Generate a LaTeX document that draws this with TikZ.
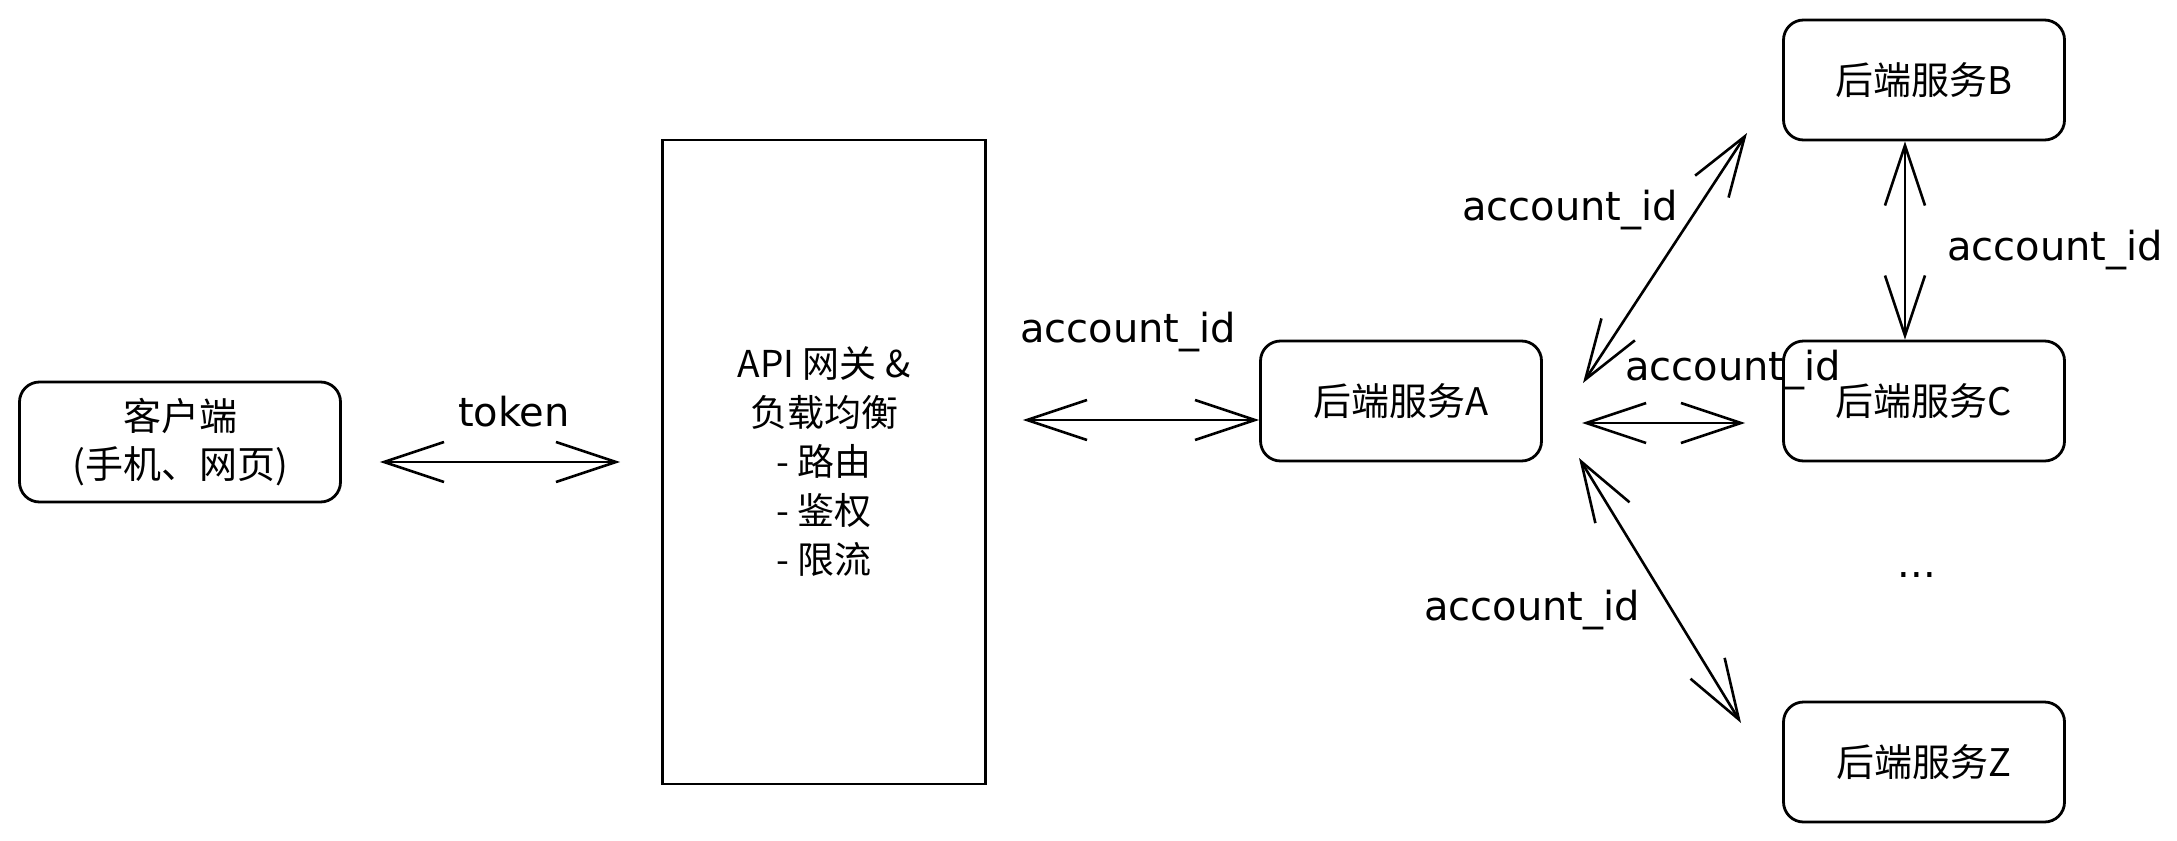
\documentclass[tikz,border=0pt]{standalone}
\usepackage{fontspec}
\setmainfont{DejaVu Sans}
\newfontfamily\cjk{Noto Sans CJK SC}
\usetikzlibrary{arrows.meta,calc}

\begin{document}
\begin{tikzpicture}[x=0.5pt, y=-0.5pt,
    box/.style={draw, line width=1.4pt, rounded corners=10pt, minimum width=140.5pt, minimum height=60pt, font=\cjk\fontsize{19}{24}\selectfont},
    link/.style={line width=1.3pt, {Straight Barb[length=30pt,width=20pt]}-{Straight Barb[length=30pt,width=20pt]}},
    lbl/.style={font=\fontsize{20}{24}\selectfont}]
    \useasboundingbox (0,0) rectangle (2177,840);

    \node [box, minimum width=160.5pt, align=center] (client) at (180,442) {客户端\\(手机、网页)};
    \node [draw, line width=1.4pt, minimum width=161.5pt, minimum height=322pt, align=center, font=\cjk\fontsize{18.5}{24.5}\selectfont] (gateway) at (824,462) {API\ 网关\ \&\\负载均衡\\-\ 路由\\-\ 鉴权\\-\ 限流};
    \node [box] (svcA) at (1401,401) {后端服务A};
    \node [box] (svcB) at (1924,80) {后端服务B};
    \node [box] (svcC) at (1924,401) {后端服务C};
    \node [box] (svcZ) at (1924,762) {后端服务Z};
    \node [lbl] (more) at (1917,575) {...};

    \coordinate (ab1) at (1583,383);
    \coordinate (ab2) at (1747,133);
    \coordinate (ac1) at (1582,423);
    \coordinate (ac2) at (1745,423);
    \coordinate (az1) at (1579,458);
    \coordinate (az2) at (1741,723);

    \draw [link, shorten <=19pt, shorten >=20.5pt] (client.east |- gateway.west) -- (gateway.west);
    \draw [link, shorten <=18pt] ($(svcA.west -| gateway.east)+(0,19)$) -- ($(svcA.west)+(0,19)$);
    \draw [link] (ab1) -- (ab2);
    \draw [link] (ac1) -- (ac2);
    \draw [link] (az1) -- (az2);
    \draw [link] ($(svcB.south)+(-19,0)$) -- ($(svcC.north)+(-19,0)$);

    \node [lbl] (tok) at (514,412) {token};
    \node [lbl] (idGA) at (1128,332) {account\_id};
    \node [lbl] (idAB) at (1570,210) {account\_id};
    \node [lbl] (idBC) at (2055,250) {account\_id};
    \node [lbl] (idAC) at (1733,370) {account\_id};
    \node [lbl] (idAZ) at (1532,610) {account\_id};
\end{tikzpicture}
\end{document}
